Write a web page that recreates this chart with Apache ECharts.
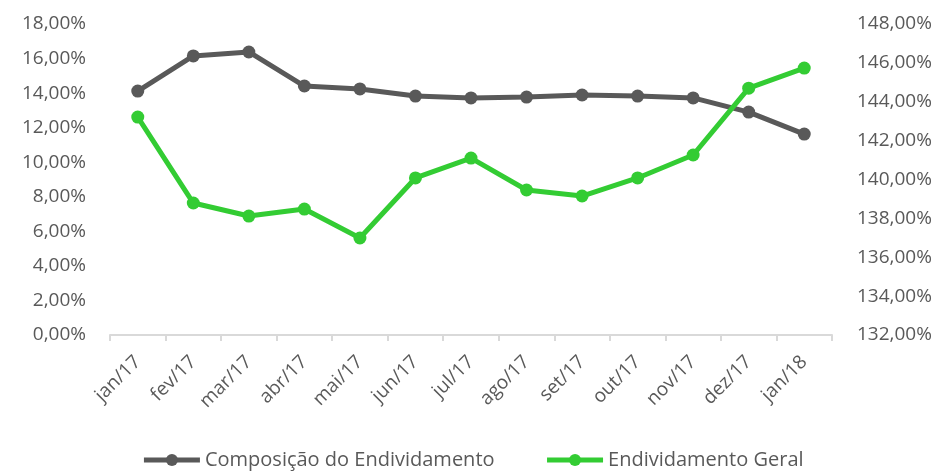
<!DOCTYPE html>
<html>
<head>
<meta charset="utf-8">
<script src="https://cdn.jsdelivr.net/npm/echarts@6/dist/echarts.min.js"></script>
<style>
  html, body { margin: 0; padding: 0; background: #fff; }
  #chart { width: 945px; height: 471px; }
</style>
</head>
<body>
<div id="chart"></div>
<script>
    var months = ['jan/17', 'fev/17', 'mar/17', 'abr/17', 'mai/17', 'jun/17', 'jul/17',
        'ago/17', 'set/17', 'out/17', 'nov/17', 'dez/17', 'jan/18'];
    var composicao = [14.12, 16.15, 16.38, 14.41, 14.24, 13.83, 13.72, 13.77, 13.89, 13.83, 13.72, 12.90, 11.63];
    var endividamentoGeral = [143.21, 138.79, 138.12, 138.48, 136.99, 140.08, 141.10, 139.46, 139.15, 140.08, 141.26, 144.70, 145.73];

    initChart();

    function pct(v) {
        return v.toFixed(2).replace('.', ',') + '%';
    }

    function initChart() {
      var chartDom = document.getElementById('chart');
      var myChart = echarts.init(chartDom);
      var font = '"Open Sans", "Noto Sans", sans-serif';

      var option = {
        animation: false,
        textStyle: { fontFamily: font },
        grid: {
          left: 110,
          right: 113,
          top: 24,
          bottom: 136
        },
        legend: {
          top: 445,
          left: 'center',
          itemWidth: 56,
          itemHeight: 15,
          itemGap: 50,
          lineStyle: { width: 5 },
          textStyle: { color: '#595959', fontSize: 20, fontFamily: font },
          data: ['Composição do Endividamento', 'Endividamento Geral']
        },
        xAxis: {
          type: 'category',
          boundaryGap: true,
          data: months,
          axisLine: { lineStyle: { color: '#d9d9d9', width: 2 } },
          axisTick: { show: true, length: 6, lineStyle: { color: '#d9d9d9', width: 2 } },
          axisLabel: { rotate: 45, color: '#595959', fontSize: 19, margin: 24, interval: 0 }
        },
        yAxis: [
          {
            type: 'value',
            min: 0,
            max: 18,
            interval: 2,
            axisLine: { show: false },
            axisTick: { show: false },
            splitLine: { show: false },
            axisLabel: { color: '#595959', fontSize: 19, margin: 24, formatter: pct }
          },
          {
            type: 'value',
            min: 132,
            max: 148,
            interval: 2,
            axisLine: { show: false },
            axisTick: { show: false },
            splitLine: { show: false },
            axisLabel: { color: '#595959', fontSize: 19, margin: 25, formatter: pct }
          }
        ],
        series: [
          {
            name: 'Composição do Endividamento',
            type: 'line',
            yAxisIndex: 0,
            symbol: 'circle',
            symbolSize: 13,
            lineStyle: { width: 5, color: '#595959' },
            itemStyle: { color: '#595959' },
            data: composicao
          },
          {
            name: 'Endividamento Geral',
            type: 'line',
            yAxisIndex: 1,
            symbol: 'circle',
            symbolSize: 13,
            lineStyle: { width: 5, color: '#33cc33' },
            itemStyle: { color: '#33cc33' },
            data: endividamentoGeral
          }
        ]
      };

      option && myChart.setOption(option);
    }
</script>
</body>
</html>
